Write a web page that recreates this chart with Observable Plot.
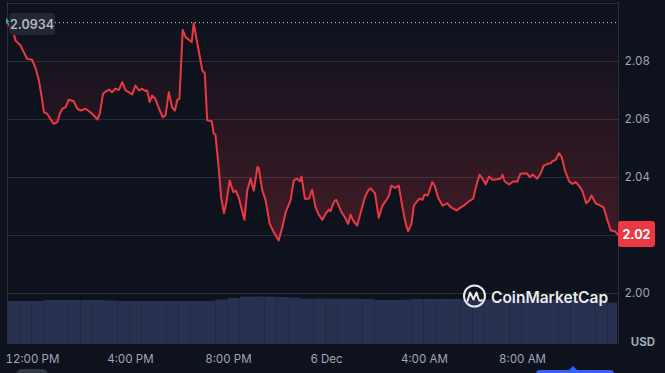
<!DOCTYPE html>
<html><head><meta charset="utf-8">
<script src="https://cdn.jsdelivr.net/npm/d3@7"></script>
<script src="https://cdn.jsdelivr.net/npm/@observablehq/plot@0.6"></script>
<style>
html,body{margin:0;padding:0;background:#0d121d;}
#wrap{position:relative;width:665px;height:373px;overflow:hidden;background:#0d121d;font-family:Inter,sans-serif;}
#wrap > svg{position:absolute;left:0;top:0;}
.lbl{position:absolute;display:flex;align-items:center;justify-content:center;font-family:Inter,sans-serif;box-sizing:border-box;}
</style></head><body><div id="wrap"></div>
<script>
// ---- data ----
const startTime = [2024, 11, 5, 10, 59]; // Dec 5, 10:59
const minutes = [0,15,20,32,40,48,60,69,77,85,
89,97,105,113,122,128,134,142,150,162,
171,179,191,203,211,220,226,234,242,248,
256,264,273,281,289,297,305,313,322,330,
338,342,348,354,362,371,380,387,395,403,
410,416,421,429,436,451,456,465,477,483,
489,500,505,509,517,523,530,536,544,553,
559,567,572,580,587,595,603,612,615,624,
632,642,652,664,673,681,693,701,709,716,
720,728,738,746,754,762,771,779,787,791,
799,805,811,818,826,834,840,846,856,864,
875,883,889,900,909,918,927,934,940,949,
958,967,975,981,989,995,1003,1009,1016,1021,
1029,1040,1046,1054,1065,1077,1085,1100,1109,1117,
1130,1140,1149,1156,1163,1171,1179,1187,1199,1207,
1212,1217,1228,1239,1248,1256,1271,1279,1286,1297,
1305,1313,1322,1330,1334,1342,1350,1357,1365,1375,
1383,1391,1399,1407,1417,1424,1430,1440,1452,1460,
1469,1477,1487,1495];
const prices = [2.0934,2.0896,2.0872,2.0855,2.0832,2.0809,2.0806,2.0776,2.0734,2.0666,
2.0625,2.0620,2.0602,2.0585,2.0591,2.0620,2.0637,2.0642,2.0668,2.0663,
2.0637,2.0631,2.0637,2.0625,2.0614,2.0600,2.0620,2.0689,2.0698,2.0703,
2.0694,2.0706,2.0702,2.0729,2.0700,2.0694,2.0686,2.0717,2.0700,2.0706,
2.0698,2.0700,2.0660,2.0683,2.0671,2.0637,2.0608,2.0614,2.0694,2.0642,
2.0631,2.0668,2.0671,2.0909,2.0884,2.0867,2.0932,2.0861,2.0769,2.0760,
2.0597,2.0594,2.0551,2.0548,2.0436,2.0332,2.0277,2.0315,2.0390,2.0349,
2.0355,2.0327,2.0298,2.0254,2.0355,2.0396,2.0355,2.0436,2.0433,2.0355,
2.0321,2.0240,2.0211,2.0183,2.0229,2.0280,2.0321,2.0390,2.0396,2.0387,
2.0403,2.0327,2.0327,2.0358,2.0298,2.0272,2.0254,2.0275,2.0289,2.0284,
2.0315,2.0323,2.0303,2.0280,2.0263,2.0240,2.0272,2.0252,2.0234,2.0275,
2.0332,2.0355,2.0363,2.0344,2.0261,2.0303,2.0321,2.0338,2.0372,2.0364,
2.0372,2.0298,2.0240,2.0215,2.0240,2.0303,2.0318,2.0327,2.0323,2.0341,
2.0338,2.0384,2.0372,2.0332,2.0303,2.0311,2.0298,2.0286,2.0296,2.0303,
2.0318,2.0327,2.0378,2.0410,2.0396,2.0376,2.0403,2.0392,2.0394,2.0396,
2.0409,2.0387,2.0376,2.0387,2.0385,2.0413,2.0415,2.0401,2.0410,2.0396,
2.0413,2.0441,2.0447,2.0449,2.0456,2.0461,2.0484,2.0470,2.0424,2.0387,
2.0378,2.0384,2.0372,2.0355,2.0311,2.0321,2.0338,2.0311,2.0303,2.0296,
2.0252,2.0217,2.0215,2.0203];
const openPrice = 2.0934;
const lastPriceLabel = "2.02";
// volume per 30-minute bucket (arbitrary units)
const volume = [43,43,43,44,44,44,44,44,43.5,43,
43,43,43,43,43,43,43,44.5,46,47.3,
47.5,47.3,47,46.5,45.3,45.3,45.3,45.3,45.3,45,
44,44,44.3,45,45,45,45,44.5,44.5,44.5,
44.5,44.5,44.5,44.5,44.5,44.5,44.5,44.5,44.5,41.3];
const yTickLabels = [2.00, 2.04, 2.06, 2.08];
const yGrid = [2.00, 2.02, 2.04, 2.06, 2.08, 2.10];
const xTickTimes = ["2024-12-05T12:00","2024-12-05T16:00","2024-12-05T20:00","2024-12-06T00:00","2024-12-06T04:00","2024-12-06T08:00"];
const xTickLabels = ["12:00 PM","4:00 PM","8:00 PM","6 Dec","4:00 AM","8:00 AM"];
const spanMinutes = 1496;

// ---- build ----
const start = new Date(...startTime);
const T = m => new Date(+start + m * 60000);
const data = minutes.map((m, i) => ({time: T(m), value: prices[i]}));
const xDomain = [start, T(spanMinutes)];
const volData = volume.map((v, i) => ({t1: T(i * 30), t2: T(Math.min((i + 1) * 30, spanMinutes - 2)), v}));
const tickDates = xTickTimes.map(s => new Date(s));

const axisColor = "#a1a7bb";
const gridColor = "#2a2f3b";
const W = 665, H = 373;
const common = {width: W, height: H, marginLeft: 7, marginRight: 47, marginBottom: 29};

const defsMark = () => {
  const d = d3.create("svg:defs");
  const g = d.append("linearGradient").attr("id", "redFade").attr("x1", 0).attr("y1", 0).attr("x2", 0).attr("y2", 1);
  g.append("stop").attr("offset", "0%").attr("stop-color", "#ea3943").attr("stop-opacity", 0.0);
  g.append("stop").attr("offset", "100%").attr("stop-color", "#ea3943").attr("stop-opacity", 0.24);
  return d.node();
};

const volPlot = Plot.plot({
  ...common, marginTop: 294,
  style: {background: "transparent", overflow: "visible"},
  x: {type: "time", domain: xDomain, axis: null},
  y: {domain: [0, 50], axis: null},
  marks: [
    Plot.rectY(volData, {x1: "t1", x2: "t2", y: "v", fill: "#283150"})
  ]
});

const pricePlot = Plot.plot({
  ...common, marginTop: 2,
  style: {background: "transparent", color: axisColor, fontFamily: "Inter, sans-serif", fontSize: "11.5px", overflow: "visible"},
  x: {type: "time", domain: xDomain},
  y: {domain: [1.98241, 2.10034]},
  marks: [
    defsMark,
    Plot.gridY(yGrid, {stroke: gridColor, strokeOpacity: 1}),
    Plot.ruleX(xDomain, {stroke: gridColor, strokeOpacity: 1}),
    Plot.areaY(data, {x: "time", y1: d => openPrice, y2: "value", fill: "url(#redFade)"}),
    Plot.ruleY([openPrice], {stroke: "#cfd3da", strokeDasharray: "1,3", strokeWidth: 1}),
    Plot.lineY(data, {x: "time", y: "value", stroke: "#ea3943", strokeWidth: 2}),
    Plot.axisY(yTickLabels, {anchor: "right", tickSize: 0, tickPadding: 6, tickFormat: d => d.toFixed(2), fill: axisColor, fontSize: 11.5, label: null}),
    Plot.axisX(tickDates, {anchor: "bottom", tickSize: 0, tickPadding: 10, tickFormat: d => xTickLabels[tickDates.findIndex(t => +t === +d)], fill: axisColor, fontSize: 11.5, label: null})
  ]
});

const wrap = document.getElementById("wrap");
wrap.appendChild(volPlot);
wrap.appendChild(pricePlot);

const ys = pricePlot.scale("y");
const yOf = v => ys.apply ? ys.apply(v) : (2 + (2.10034 - v) / (2.10034 - 1.98241) * 342);
const yOpen = yOf(openPrice);
const yLast = yOf(prices[prices.length - 1]);

// open-price badge
const b1 = document.createElement("div");
b1.className = "lbl";
b1.textContent = openPrice.toFixed(4);
Object.assign(b1.style, {left: "9px", top: (yOpen - 9) + "px", width: "46px", height: "22px", background: "#222733", borderRadius: "4px", color: "#b4b8c1", fontSize: "12.5px", fontWeight: "600"});
wrap.appendChild(b1);

// last-price badge
const b2 = document.createElement("div");
b2.className = "lbl";
b2.textContent = lastPriceLabel;
Object.assign(b2.style, {left: "618px", top: (yLast - 13) + "px", width: "37px", height: "26px", background: "#ea3943", borderRadius: "3px", color: "#ffffff", fontSize: "12.5px", fontWeight: "700"});
wrap.appendChild(b2);

// start marker
const g0 = document.createElement("div");
Object.assign(g0.style, {position: "absolute", left: "6px", top: (yOpen - 4) + "px", width: "0", height: "0", borderLeft: "3px solid #16c784", borderTop: "3px solid transparent", borderBottom: "3px solid transparent"});
wrap.appendChild(g0);

// USD unit
const usd = document.createElement("div");
usd.className = "lbl";
usd.textContent = "USD";
Object.assign(usd.style, {left: "626px", top: "334px", width: "34px", height: "16px", color: axisColor, fontSize: "11.5px", fontWeight: "700"});
wrap.appendChild(usd);

// watermark
const wm = document.createElementNS("http://www.w3.org/2000/svg", "svg");
wm.setAttribute("width", W); wm.setAttribute("height", H);
wm.innerHTML = `<circle cx="474.5" cy="296" r="10.5" fill="none" stroke="#e8eaee" stroke-width="2"/>
<path d="M467.5,301 L470,292.5 L473.5,299.5 L476.5,292.5 L478.5,299 Q479.5,302 482,300" fill="none" stroke="#e8eaee" stroke-width="2" stroke-linejoin="round" stroke-linecap="round"/>
<text x="491" y="302.5" font-family="Inter, sans-serif" font-size="15.5" font-weight="600" fill="#e8eaee">CoinMarketCap</text>`;
wrap.appendChild(wm);

// cut-off UI bits at bottom edge
const gb = document.createElement("div");
Object.assign(gb.style, {position: "absolute", left: "16px", top: "369px", width: "32px", height: "12px", background: "#323846", borderRadius: "6px"});
wrap.appendChild(gb);
const bb = document.createElement("div");
Object.assign(bb.style, {position: "absolute", left: "536px", top: "370px", width: "78px", height: "12px", background: "#3861fb", borderRadius: "4px"});
wrap.appendChild(bb);
const bt = document.createElement("div");
Object.assign(bt.style, {position: "absolute", left: "569px", top: "366px", width: "0", height: "0", borderLeft: "4px solid transparent", borderRight: "4px solid transparent", borderBottom: "4px solid #3861fb"});
wrap.appendChild(bt);
</script></body></html>
